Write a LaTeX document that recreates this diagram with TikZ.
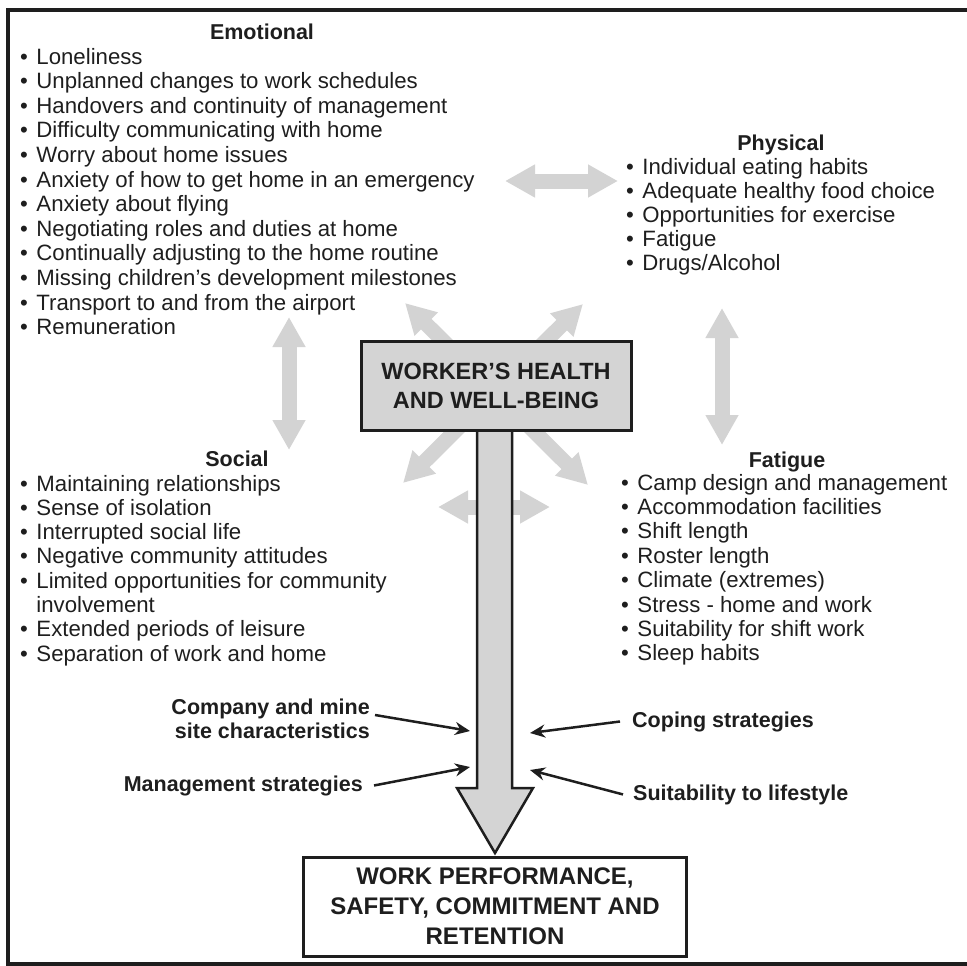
\documentclass[tikz,border=0pt]{standalone}
\usepackage{fontspec}
\setmainfont{Liberation Sans}
\usetikzlibrary{arrows.meta}
\definecolor{lightgrey}{HTML}{D3D3D3}
\definecolor{boxgrey}{HTML}{D4D4D4}
\definecolor{ink}{HTML}{1E1E1E}
\newcommand{\bul}{•\hspace{8.5pt}}
\tikzset{
  item/.style={anchor=base west, inner sep=0pt, text=ink, font=\fontsize{22.2}{24}\selectfont},
  head/.style={anchor=base, inner sep=0pt, text=ink, font=\fontsize{21.5}{24}\selectfont\bfseries},
  lbl/.style={inner sep=0pt, text=ink, font=\fontsize{21.5}{24}\selectfont\bfseries},
  bigbox/.style={draw=ink, line width=3pt, align=center, inner sep=0pt, text=ink},
  grayarrow/.style={lightgrey, line width=15pt,
    {Triangle[width=31pt,length=30pt]}-{Triangle[width=31pt,length=30pt]}},
  blackarrow/.style={ink, line width=2.5pt, -{Stealth[length=15pt,width=13pt]}}
}
\begin{document}
\begin{tikzpicture}[x=1pt,y=-1pt]
\useasboundingbox (0,0) rectangle (966,966);
\draw[ink, line width=3.5pt] (8,10) rectangle (975,964);
% gray arrows between the groups
\coordinate (ep1) at (505,181); \coordinate (ep2) at (618,181);
\coordinate (es1) at (289,317); \coordinate (es2) at (289,450);
\coordinate (pf1) at (722,308); \coordinate (pf2) at (722,445);
\coordinate (dg1) at (405,303); \coordinate (dg2) at (588,485);
\coordinate (dg3) at (583,304); \coordinate (dg4) at (403,483);
\coordinate (sf1) at (438,507); \coordinate (sf2) at (550,507);
\draw[grayarrow] (ep1) -- (ep2);
\draw[grayarrow] (es1) -- (es2);
\draw[grayarrow] (pf1) -- (pf2);
\draw[grayarrow] (dg1) -- (dg2);
\draw[grayarrow] (dg3) -- (dg4);
\draw[grayarrow] (sf1) -- (sf2);
% emotional
\node[head] (emo) at (262,40) {Emotional};
\foreach \txt [count=\i from 0] in {Loneliness, Unplanned changes to work schedules,
  Handovers and continuity of management, Difficulty communicating with home,
  Worry about home issues, Anxiety of how to get home in an emergency,
  Anxiety about flying, Negotiating roles and duties at home,
  Continually adjusting to the home routine, Missing children’s development milestones,
  Transport to and from the airport, Remuneration}
  \node[item] (emo\i) at (20,64+24.6*\i) {\bul\txt};
% physical
\node[head] (phy) at (781,150) {Physical};
\foreach \txt [count=\i from 0] in {Individual eating habits, Adequate healthy food choice,
  Opportunities for exercise, Fatigue, Drugs/Alcohol}
  \node[item] (phy\i) at (626,174+24.1*\i) {\bul\txt};
% social
\node[head] (soc) at (237,466) {Social};
\foreach \txt [count=\i from 0] in {Maintaining relationships, Sense of isolation,
  Interrupted social life, Negative community attitudes,
  Limited opportunities for community, \hphantom{\bul}involvement,
  Extended periods of leisure, Separation of work and home}
  \node[item] (soc\i) at (20,491+24.3*\i) {\ifnum\i=5\else\bul\fi\txt};
% fatigue
\node[head] (fat) at (787,467) {Fatigue};
\foreach \txt [count=\i from 0] in {Camp design and management, Accommodation facilities,
  Shift length, Roster length, Climate (extremes), Stress - home and work,
  Suitability for shift work, Sleep habits}
  \node[item] (fat\i) at (621,490+24.4*\i) {\bul\txt};
% main arrow
\draw[ink, fill=boxgrey, line width=2.5pt, line join=miter]
  (477,428) -- (477,788) -- (457,788) -- (495,853) -- (533,788) -- (512,788) -- (512,428);
\node[bigbox, fill=boxgrey, minimum width=270pt, minimum height=89pt,
  font=\fontsize{23.5}{29}\selectfont\bfseries] (health) at (496,385.5)
  {WORKER’S HEALTH\\AND WELL-BEING};
\node[bigbox, fill=white, minimum width=383pt, minimum height=99pt,
  font=\fontsize{24}{30}\selectfont\bfseries] (outcome) at (495,906.5)
  {WORK PERFORMANCE,\\SAFETY, COMMITMENT AND\\RETENTION};
% influences
\node[lbl, align=right, anchor=east] (company) at (370,719) {Company and mine\\site characteristics};
\node[lbl, anchor=base east] (mgmt) at (363,791) {Management strategies};
\node[lbl, anchor=base west] (coping) at (632,727) {Coping strategies};
\node[lbl, anchor=base west] (suit) at (633,800) {Suitability to lifestyle};
\coordinate (cotip) at (470,731);
\coordinate (mgtip) at (470,767);
\coordinate (cptip) at (530,733);
\coordinate (sutip) at (530,770);
\draw[blackarrow] ([shift={(5,-4)}]company.east) -- (cotip);
\draw[blackarrow] ([xshift=11pt]mgmt.east) -- (mgtip);
\draw[blackarrow] ([xshift=-12pt]coping.west) -- (cptip);
\draw[blackarrow] ([xshift=-10pt]suit.west) -- (sutip);
\end{tikzpicture}
\end{document}
